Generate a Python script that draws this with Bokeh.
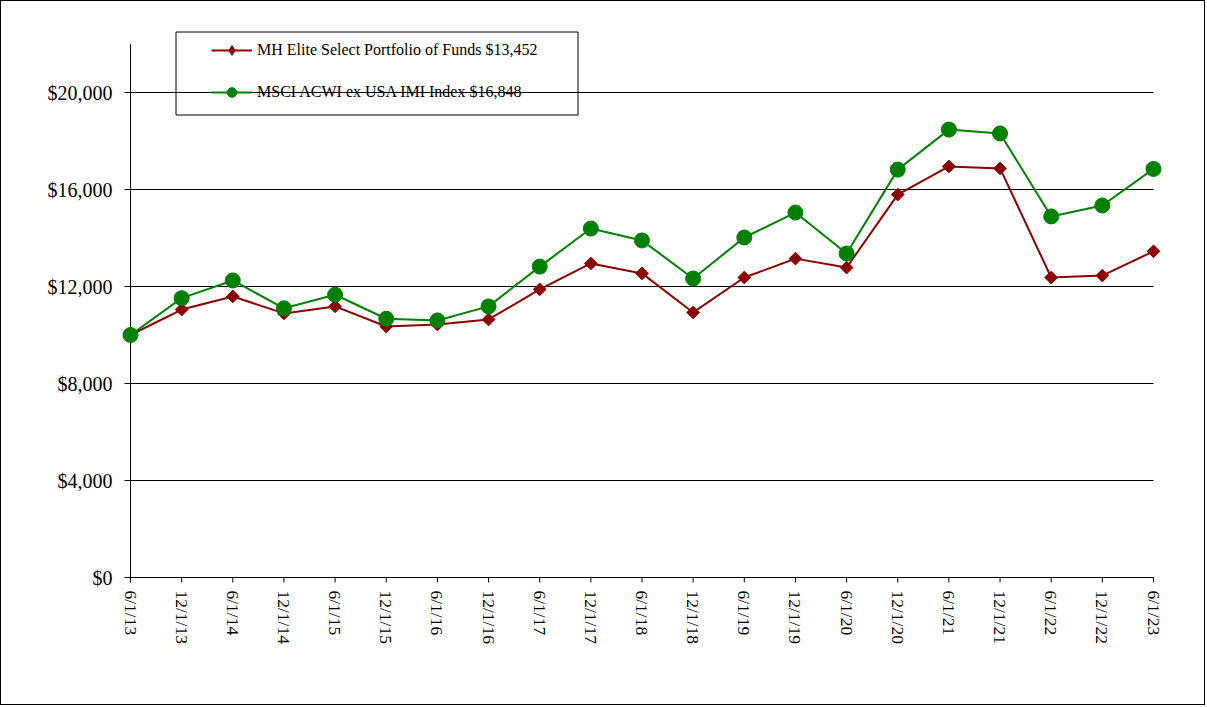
import math
from bokeh.plotting import figure
from bokeh.models import (Range1d, Legend, LegendItem, BoxAnnotation, ColumnDataSource)
from bokeh.embed import file_html
from bokeh.resources import INLINE

dates = ["6/1/13", "12/1/13", "6/1/14", "12/1/14", "6/1/15", "12/1/15", "6/1/16",
         "12/1/16", "6/1/17", "12/1/17", "6/1/18", "12/1/18", "6/1/19", "12/1/19",
         "6/1/20", "12/1/20", "6/1/21", "12/1/21", "6/1/22", "12/1/22", "6/1/23"]
mh_values = [10000, 11050, 11590, 10890, 11180, 10350, 10430, 10640, 11880, 12950, 12540,
             10930, 12370, 13150, 12780, 15790, 16950, 16870, 12370, 12450, 13452]
msci_values = [10000, 11520, 12250, 11100, 11660, 10670, 10600, 11180, 12820, 14390, 13900,
               12330, 14020, 15050, 13360, 16820, 18470, 18310, 14890, 15340, 16848]
y_ticks = [0, 4000, 8000, 12000, 16000, 20000]
y_max = 22000
mh_label = "MH Elite Select Portfolio of Funds $13,452"
msci_label = "MSCI ACWI ex USA IMI Index $16,848"

FONT = "Liberation Serif"
RED = "#8b0000"
GREEN = "#008000"

# layout (canvas pixels; the page has a 1px border so canvas = page - 1)
W, H = 1205, 705
X0_PX, XN_PX = 129, 1152        # pixel of first / last category
YTOP_PX, Y0_PX = 42.5, 576      # pixel of y_max / 0
n = len(dates)
ux = (XN_PX - X0_PX) / (n - 1)
uy = (Y0_PX - YTOP_PX) / y_max
x_lo = -X0_PX / ux
x_hi = (W - X0_PX) / ux
y_hi = Y0_PX / uy
y_lo = -(H - Y0_PX) / uy

xs = list(range(n))
src = ColumnDataSource(dict(x=xs, mh=mh_values, msci=msci_values))

p = figure(width=W, height=H, output_backend="svg", toolbar_location=None,
           x_range=Range1d(x_lo, x_hi), y_range=Range1d(y_lo, y_hi),
           x_axis_location=None, y_axis_location=None,
           min_border_left=0, min_border_right=0, min_border_top=0, min_border_bottom=0)
p.styles = {"border": "1px solid black"}
p.outline_line_color = None
p.background_fill_color = "white"
p.border_fill_color = "white"
p.xgrid.visible = False
p.ygrid.visible = False

# gridlines + left tick stubs (the 0 line is the x axis)
ytick_len = 6 / ux
p.segment(x0=[-ytick_len] * len(y_ticks), x1=[n - 1] * len(y_ticks), y0=y_ticks, y1=y_ticks,
          line_color="black", line_width=1)
# y axis line
p.segment(x0=[0], x1=[0], y0=[0], y1=[y_max], line_color="black", line_width=1)
# y tick labels
p.text(x=[0] * len(y_ticks), y=y_ticks, text=[f"${v:,}" for v in y_ticks],
       x_offset=-18, text_align="right", text_baseline="middle",
       text_font=FONT, text_font_size="20px", text_color="black")

# x ticks and labels
xtick_len = 5 / uy
p.segment(x0=xs, x1=xs, y0=[0] * n, y1=[-xtick_len] * n, line_color="black", line_width=1)
p.text(x=xs, y=[0] * n, text=dates, angle=-math.pi / 2, y_offset=13,
       text_align="left", text_baseline="middle",
       text_font=FONT, text_font_size="17.5px", text_color="black")

# series
r_mh_line = p.line("x", "mh", source=src, line_color=RED, line_width=2)
r_mh_pts = p.scatter("x", "mh", source=src, marker="square", angle=math.pi / 4, size=9,
                     fill_color=RED, line_color=RED)
r_ms_line = p.line("x", "msci", source=src, line_color=GREEN, line_width=2)
r_ms_pts = p.scatter("x", "msci", source=src, marker="circle", size=15,
                     fill_color=GREEN, line_color=GREEN)
# legend-only diamond (not drawn in the plot area)
r_mh_leg = p.scatter(x=[float("nan")], y=[float("nan")], marker="diamond", size=12,
                     fill_color=RED, line_color=RED)

# legend
legend = Legend(items=[LegendItem(label=mh_label, renderers=[r_mh_line, r_mh_leg]),
                       LegendItem(label=msci_label, renderers=[r_ms_line, r_ms_pts])],
                location=(202, H - 111), orientation="vertical",
                border_line_alpha=0, background_fill_alpha=0,
                padding=8, spacing=18, glyph_width=41, glyph_height=24, label_height=20,
                label_standoff=5, label_text_font=FONT, label_text_font_size="16px",
                label_text_color="black", margin=0)
p.add_layout(legend, "center")

legend_box = BoxAnnotation(left=173.5, right=575.5, top=29.5, bottom=112.5,
                           left_units="canvas", right_units="canvas",
                           top_units="canvas", bottom_units="canvas",
                           fill_alpha=0, line_color="black", line_alpha=1, line_width=1,
                           level="overlay")
p.add_layout(legend_box)

open("out.html", "w").write(file_html(p, INLINE))
